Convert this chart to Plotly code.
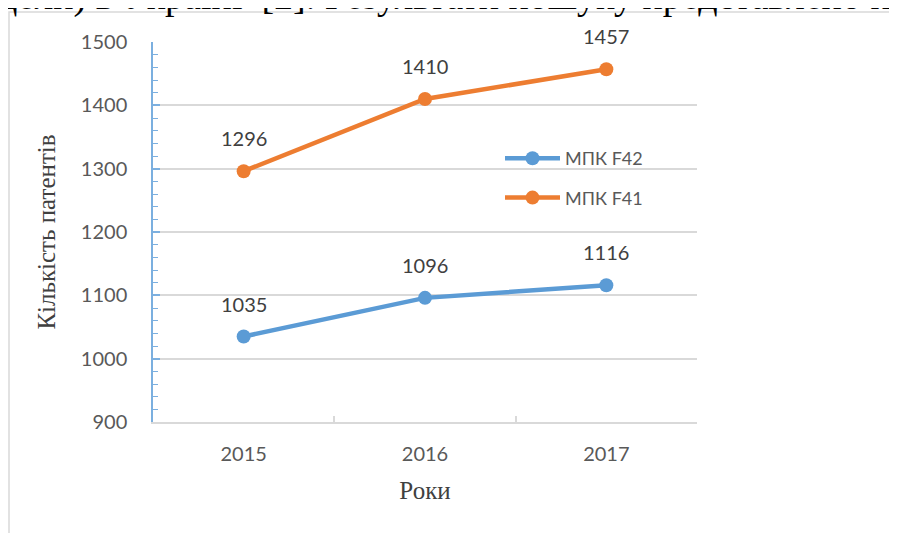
import plotly.graph_objects as go

years = ["2015", "2016", "2017"]
f42 = [1035, 1096, 1116]
f41 = [1296, 1410, 1457]
series_names = ["МПК F42", "МПК F41"]
y_ticks = [900, 1000, 1100, 1200, 1300, 1400, 1500]
y_title = "Кількість патентів"
x_title = "Роки"
top_text = "дели) в Україні  [2]. Результати пошуку представлено на"

BLUE = "#5B9BD5"
ORANGE = "#ED7D31"
GREY_TXT = "#595959"
TICK_FONT = "Lato"

fig = go.Figure()
for name, vals, col, grp in [(series_names[0], f42, BLUE, "a"), (series_names[1], f41, ORANGE, "b")]:
    fig.add_trace(go.Scatter(
        x=years, y=vals, name=name, mode="lines+markers",
        line=dict(color=col, width=4.5),
        marker=dict(color=col, size=14),
        legendgroup=grp,
    ))
    for i, yv in enumerate(vals):
        fig.add_annotation(x=i, y=yv, text=str(yv), showarrow=False,
                           yanchor="middle", yshift=33,
                           font=dict(family=TICK_FONT, size=20, color="#404040"))

# chart frame
fig.add_shape(type="rect", xref="paper", yref="paper",
              x0=(9 - 153) / 544, x1=1.6, y0=-0.5, y1=(422 - 12) / 380,
              line=dict(color="#D9D9D9", width=1.5), fillcolor="rgba(0,0,0,0)", layer="below")

# document text above the chart
fig.add_annotation(xref="paper", yref="paper", x=(-4 - 153) / 544, y=(422 - 20) / 380,
                   xanchor="left", yanchor="bottom", showarrow=False, text=top_text,
                   font=dict(family="Liberation Serif", size=38, color="black"))

fig.update_layout(
    width=897, height=533,
    margin=dict(l=145, r=208, t=34, b=119),
    paper_bgcolor="white", plot_bgcolor="white",
    showlegend=True,
    legend=dict(x=(500 - 153) / 544, y=(422 - 140) / 380, xanchor="left", yanchor="top",
                bgcolor="rgba(0,0,0,0)", font=dict(family=TICK_FONT, size=18, color=GREY_TXT),
                tracegroupgap=13, itemwidth=55),
    xaxis=dict(
        type="category", range=[-0.5, 2.5],
        showline=True, linecolor="#D9D9D9", linewidth=1.5,
        ticks="inside", tickson="boundaries", ticklen=6, tickcolor="#D9D9D9", tickwidth=1.5,
        showgrid=False,
        tickfont=dict(family=TICK_FONT, size=20, color=GREY_TXT),
        ticklabelstandoff=13,
        title=dict(text=x_title, font=dict(family="Liberation Serif", size=25, color="#404040"),
                   standoff=18),
    ),
    yaxis=dict(
        range=[900, 1500], tickvals=y_ticks,
        showline=True, linecolor="#7BAFDF", linewidth=1.5,
        ticks="inside", ticklen=7, tickcolor="#7BAFDF", tickwidth=1.5,
        minor=dict(dtick=20, ticks="inside", ticklen=5, tickcolor="#7BAFDF", tickwidth=1, showgrid=False),
        showgrid=True, gridcolor="#D9D9D9", gridwidth=1.5,
        zeroline=False,
        tickfont=dict(family=TICK_FONT, size=20, color=GREY_TXT),
        ticklabelstandoff=20,
        title=dict(text=y_title, font=dict(family="Liberation Serif", size=25, color="#404040"),
                   standoff=18),
    ),
)

fig.write_html("out.html")
